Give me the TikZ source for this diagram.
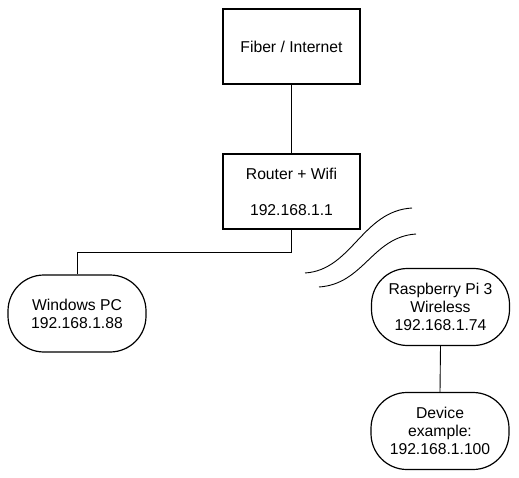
\documentclass[tikz,border=0pt]{standalone}
\usepackage{fontspec}
\setmainfont{Liberation Sans}
\begin{document}
\begin{tikzpicture}[x=1pt,y=-1pt,
  box/.style={draw,line width=1.2pt,minimum width=137pt,minimum height=75pt,inner sep=0pt,align=center,font=\fontsize{15.7}{18}\selectfont},
  pill/.style={draw,line width=1.2pt,rounded corners=36pt,minimum width=138pt,minimum height=77pt,inner sep=0pt,align=center,font=\fontsize{15.7}{18}\selectfont},
  wire/.style={line width=0.9pt}]
\useasboundingbox (0,0) rectangle (519,478);
\node[box] (fiber) at (291.5,46.5) {Fiber / Internet};
\node[box] (router) at (291.5,191.5) {Router + Wifi\\[18pt]192.168.1.1};
\node[pill] (pc) at (77,313.5) {Windows PC\\192.168.1.88};
\node[pill] (pi) at (440.5,307) {Raspberry Pi 3\\Wireless\\192.168.1.74};
\node[pill] (dev) at (440,431) {Device\\example:\\192.168.1.100};
\draw[wire] (fiber.south) -- (router.north);
\draw[wire] (router.south) -- ++(0,23) -| (pc.north);
\draw[wire] (pi.south) -- (dev.north);
\draw[wire] (305,273) .. controls (352,270) and (362,211) .. (412,208);
\draw[wire] (319,287) .. controls (364,284) and (372,237) .. (416,234);
\end{tikzpicture}
\end{document}
